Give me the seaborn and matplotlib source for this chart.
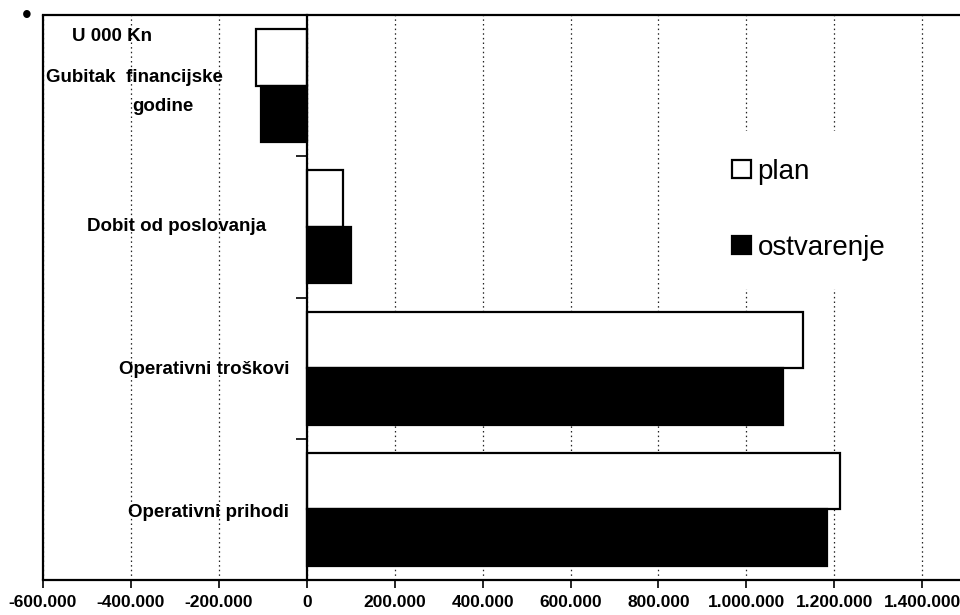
import matplotlib
matplotlib.use("Agg")
import matplotlib.pyplot as plt
import seaborn as sns
import pandas as pd
from matplotlib.ticker import FuncFormatter, FixedLocator
from matplotlib.lines import Line2D

# ---- data (values in 000 Kn) ----
categories = ["Gubitak financijske godine", "Dobit od poslovanja",
              "Operativni troškovi", "Operativni prihodi"]
series = ["plan", "ostvarenje"]
plan = [-116000, 82000, 1128000, 1212000]
ostvarenje = [-103000, 100000, 1084000, 1183000]
x_ticks = [-600000, -400000, -200000, 0, 200000, 400000, 600000,
           800000, 1000000, 1200000, 1400000]
unit_label = "U 000 Kn"

df = pd.DataFrame({
    "kategorija": categories * 2,
    "serija": [series[0]] * len(categories) + [series[1]] * len(categories),
    "vrijednost": plan + ostvarenje,
})

sns.set_style("white")
plt.rcParams["font.family"] = ["Liberation Sans", "DejaVu Sans"]
plt.rcParams["text.color"] = "black"
plt.rcParams["xtick.color"] = "black"
plt.rcParams["ytick.color"] = "black"
plt.rcParams["axes.labelcolor"] = "black"

fig = plt.figure(figsize=(9.6, 6.15), dpi=100)
ax = fig.add_axes([43 / 960, 35 / 615, 1 - 43 / 960, (580 - 15) / 615])

sns.barplot(data=df, y="kategorija", x="vrijednost", hue="serija",
            order=categories, hue_order=series, orient="h",
            palette={"plan": "white", "ostvarenje": "black"},
            saturation=1, width=0.8, edgecolor="black", linewidth=1.6,
            ax=ax)

ax.set_xlim(-600000, 1486000)
ax.set_ylim(3.5, -0.5)
ax.set_xlabel("")
ax.set_ylabel("")

# x axis
ax.xaxis.set_major_locator(FixedLocator(x_ticks))
ax.xaxis.set_major_formatter(FuncFormatter(
    lambda v, p: "0" if v == 0 else f"{int(v):,}".replace(",", ".")))
ax.tick_params(axis="x", direction="out", length=6, width=1.2, color="black",
               pad=5, labelsize=12.5, bottom=True, labelcolor="black")
for lab in ax.get_xticklabels():
    lab.set_fontweight("bold")

ax.grid(axis="x", linestyle=(0, (1.2, 2.5)), color="#222222", linewidth=0.9)
ax.grid(axis="y", visible=False)
ax.set_axisbelow(True)

# y axis crosses at zero
ax.spines["left"].set_position(("data", 0))
ax.spines["left"].set_linewidth(1.6)
ax.spines["left"].set_zorder(5)
ax.yaxis.set_major_locator(FixedLocator([-0.5, 0.5, 1.5, 2.5, 3.5]))
ax.tick_params(axis="y", direction="out", length=8, width=1.2, color="black",
               left=True, labelleft=False)
ax.spines["right"].set_visible(False)
ax.spines["top"].set_linewidth(1.6)
ax.spines["bottom"].set_linewidth(1.6)
for s in ["top", "bottom", "left"]:
    ax.spines[s].set_color("black")

# outer plot-area border on the left
ax.add_line(Line2D([0, 0], [0, 1], transform=ax.transAxes, color="black",
                   linewidth=1.6, clip_on=False))

# category labels (positioned to the left of the zero axis)
lab_kw = dict(fontsize=13.5, fontweight="bold", va="center", color="black")
ax.text(-393000, -0.06, "Gubitak  financijske", ha="center", **lab_kw)
ax.text(-327000, 0.15, "godine", ha="center", **lab_kw)
ax.text(-297000, 0.995, categories[1], ha="center", **lab_kw)
ax.text(-233000, 2.01, categories[2], ha="center", **lab_kw)
ax.text(-224000, 3.02, categories[3], ha="center", **lab_kw)
ax.text(-443000, -0.35, unit_label, ha="center", **lab_kw)

# legend
handles, labels = ax.get_legend_handles_labels()
if ax.get_legend() is not None:
    ax.get_legend().remove()
leg = ax.legend(handles, labels, loc="upper left",
                bbox_to_anchor=(704 / 960, 484 / 615),
                bbox_transform=fig.transFigure, fontsize=20, frameon=True,
                facecolor="white", edgecolor="none", framealpha=1,
                handlelength=0.68, handleheight=0.62, handletextpad=0.25,
                labelspacing=1.8, borderpad=1.0, borderaxespad=0)
for h in leg.legend_handles:
    h.set_edgecolor("black")
    h.set_linewidth(1.6)
for t in leg.get_texts():
    t.set_color("black")

# small dot in the corner
fig.text(27 / 960, 1 - 16 / 615, "\u2022", fontsize=20, ha="center",
         va="center", color="black")

fig.savefig("out.png", dpi=100, facecolor="white")
